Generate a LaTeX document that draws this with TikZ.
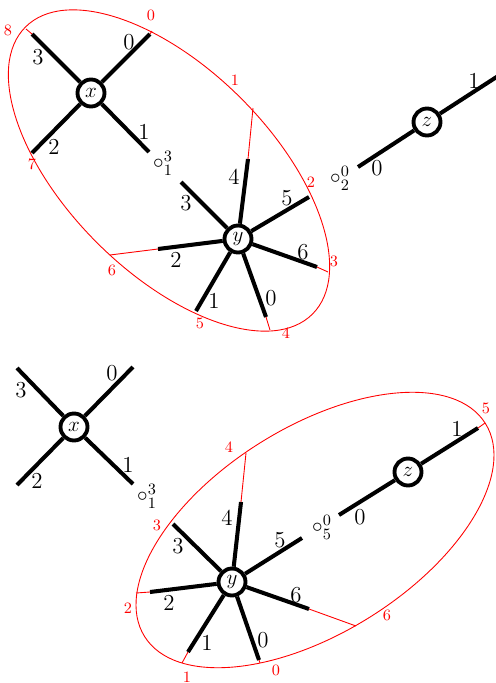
\documentclass[tikz,border=0pt]{standalone}
\usepackage{amsmath,amssymb}
\usetikzlibrary{positioning,calc}

\begin{document}
\begin{tikzpicture}[x=0.02cm, y=-0.02cm,
    vtx/.style={draw, circle, line width=2.2pt, minimum size=0.54cm, inner sep=0pt, font=\fontsize{13}{15}\selectfont},
    leg/.style={line width=2.3pt},
    lbl/.style={font=\fontsize{13}{15}\selectfont, inner sep=0pt},
    rlbl/.style={text=red, font=\fontsize{9}{10}\selectfont, inner sep=0pt},
    bnd/.style={draw=red, line width=0.5pt},
  ]
  \useasboundingbox (0,0) rectangle (496,683);

  % ---- top: before the merge ----
  \draw[bnd, rotate around={-45:(169,170.5)}] (169,170.5) ellipse [x radius=4.06cm, y radius=2.04cm];

  \node[vtx] (tx) at (91,93) {$x$};
  \node[vtx] (ty) at (238,239) {$y$};
  \node[vtx] (tz) at (427,122) {$z$};

  \coordinate (tx0) at (150,34);
  \coordinate (tx1) at (149,152);
  \coordinate (tx2) at (32,153);
  \coordinate (tx3) at (32,34);
  \coordinate (ty0) at (266,317);
  \coordinate (ty1) at (196,311);
  \coordinate (ty2) at (158,249);
  \coordinate (ty3) at (181,182);
  \coordinate (ty4) at (248,159);
  \coordinate (ty5) at (309,197);
  \coordinate (ty6) at (317,267);
  \coordinate (tz0) at (358,167);
  \coordinate (tz1) at (512,67);

  \foreach \i in {0,...,3} \draw[leg] (tx) -- (tx\i);
  \foreach \i in {0,...,6} \draw[leg] (ty) -- (ty\i);
  \foreach \i in {0,1} \draw[leg] (tz) -- (tz\i);

  \node[lbl] (ltx0) at (129,42) {0};
  \node[lbl] (ltx1) at (144,132) {1};
  \node[lbl] (ltx2) at (54,147) {2};
  \node[lbl] (ltx3) at (38,57) {3};
  \node[lbl] (lty0) at (271,298) {0};
  \node[lbl] (lty1) at (214,301) {1};
  \node[lbl] (lty2) at (176,260) {2};
  \node[lbl] (lty3) at (186,203) {3};
  \node[lbl] (lty4) at (234,177) {4};
  \node[lbl] (lty5) at (287,198) {5};
  \node[lbl] (lty6) at (303,252) {6};
  \node[lbl] (ltz0) at (377,168) {0};
  \node[lbl] (ltz1) at (474,81) {1};
  \node[lbl] (tfree1) at (163,163) {$\circ^3_1$};
  \node[lbl] (tfree2) at (340,178) {$\circ^0_2$};

  % cut points on the boundary
  \coordinate (tc0) at (152,31);
  \coordinate (tc1) at (253,108);
  \coordinate (tc3) at (328,272);
  \coordinate (tc4) at (270,330);
  \coordinate (tc6) at (110,255);
  \coordinate (tc8) at (26,29);
  \draw[bnd] (tx0) -- (tc0);
  \draw[bnd] (ty4) -- (tc1);
  \draw[bnd] (ty6) -- (tc3);
  \draw[bnd] (ty0) -- (tc4);
  \draw[bnd] (ty2) -- (tc6);
  \draw[bnd] (tx3) -- (tc8);

  \node[rlbl] (rt0) at (151,15) {0};
  \node[rlbl] (rt1) at (235,80) {1};
  \node[rlbl] (rt2) at (311,182) {2};
  \node[rlbl] (rt3) at (334,261) {3};
  \node[rlbl] (rt4) at (286,333) {4};
  \node[rlbl] (rt5) at (200,323) {5};
  \node[rlbl] (rt6) at (112,270) {6};
  \node[rlbl] (rt7) at (32,164) {7};
  \node[rlbl] (rt8) at (8,30) {8};

  % ---- bottom: after the merge ----
  \draw[bnd, rotate around={32:(315,530)}] (315,530) ellipse [x radius=4.02cm, y radius=2.06cm];

  \node[vtx] (bx) at (74,427) {$x$};
  \node[vtx] (by) at (232,582) {$y$};
  \node[vtx] (bz) at (408,472) {$z$};

  \coordinate (bx0) at (133,367);
  \coordinate (bx1) at (133,484);
  \coordinate (bx2) at (17,485);
  \coordinate (bx3) at (17,368);
  \coordinate (by0) at (259,660);
  \coordinate (by1) at (188,652);
  \coordinate (by2) at (150,592);
  \coordinate (by3) at (173,524);
  \coordinate (by4) at (241,502);
  \coordinate (by5) at (302,538);
  \coordinate (by6) at (309,609);
  \coordinate (bz0) at (339,515);
  \coordinate (bz1) at (478,428);

  \foreach \i in {0,...,3} \draw[leg] (bx) -- (bx\i);
  \foreach \i in {0,...,6} \draw[leg] (by) -- (by\i);
  \foreach \i in {0,1} \draw[leg] (bz) -- (bz\i);

  \node[lbl] (lbx0) at (112,373) {0};
  \node[lbl] (lbx1) at (128,465) {1};
  \node[lbl] (lbx2) at (37,481) {2};
  \node[lbl] (lbx3) at (21,390) {3};
  \node[lbl] (lby0) at (263,640) {0};
  \node[lbl] (lby1) at (207,643) {1};
  \node[lbl] (lby2) at (169,603) {2};
  \node[lbl] (lby3) at (178,546) {3};
  \node[lbl] (lby4) at (227,518) {4};
  \node[lbl] (lby5) at (280,540) {5};
  \node[lbl] (lby6) at (296,595) {6};
  \node[lbl] (lbz0) at (360,517) {0};
  \node[lbl] (lbz1) at (457,429) {1};
  \node[lbl] (bfree1) at (147,496) {$\circ^3_1$};
  \node[lbl] (bfree2) at (322,527) {$\circ^0_5$};

  \coordinate (bc0) at (260,663);
  \coordinate (bc1) at (182,663);
  \coordinate (bc2) at (136,593);
  \coordinate (bc4) at (246,453);
  \coordinate (bc5) at (485,423);
  \coordinate (bc6) at (356,626);
  \draw[bnd] (by0) -- (bc0);
  \draw[bnd] (by1) -- (bc1);
  \draw[bnd] (by2) -- (bc2);
  \draw[bnd] (by4) -- (bc4);
  \draw[bnd] (bz1) -- (bc5);
  \draw[bnd] (by6) -- (bc6);

  \node[rlbl] (rb0) at (276,670) {0};
  \node[rlbl] (rb1) at (187,677) {1};
  \node[rlbl] (rb2) at (128,608) {2};
  \node[rlbl] (rb3) at (157,525) {3};
  \node[rlbl] (rb4) at (229,447) {4};
  \node[rlbl] (rb5) at (486,408) {5};
  \node[rlbl] (rb6) at (387,615) {6};
\end{tikzpicture}
\end{document}
